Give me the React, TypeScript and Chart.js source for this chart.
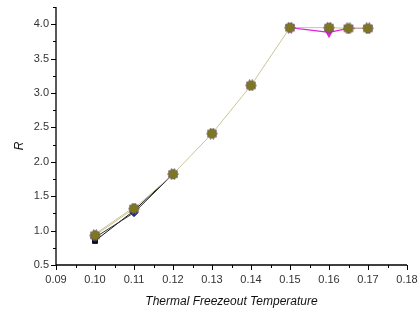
import React, { useEffect, useRef } from "react";
import { Chart, registerables } from "chart.js";
Chart.register(...registerables);

const oliveX = [0.10, 0.11, 0.12, 0.13, 0.14, 0.15, 0.16, 0.165, 0.17];
const oliveY = [0.93, 1.32, 1.82, 2.41, 3.11, 3.95, 3.95, 3.94, 3.94];
const blackX = [0.10, 0.11, 0.12];
const blackY = [0.85, 1.29, 1.82];
const blueX = [0.10, 0.11, 0.12];
const blueY = [0.90, 1.26, 1.82];
const redX = [0.10, 0.11];
const redY = [0.95, 1.34];
const magentaX = [0.15, 0.16, 0.165, 0.17];
const magentaY = [3.95, 3.88, 3.94, 3.94];
const xMajorTicks = [0.09, 0.10, 0.11, 0.12, 0.13, 0.14, 0.15, 0.16, 0.17, 0.18];
const yMajorTicks = [0.5, 1.0, 1.5, 2.0, 2.5, 3.0, 3.5, 4.0];
const yTitle = "R";

const pts = (xs: number[], ys: number[]) => xs.map((x, i) => ({ x, y: ys[i] }));

function makeGear(fill: string, edge: string) {
  const c = document.createElement("canvas");
  c.width = 12; c.height = 12;
  const g = c.getContext("2d")!;
  g.beginPath();
  const n = 10;
  for (let i = 0; i < n * 2; i++) {
    const r = i % 2 === 0 ? 5.6 : 4.4;
    const a = (Math.PI * i) / n;
    const px = 6 + r * Math.cos(a), py = 6 + r * Math.sin(a);
    if (i === 0) g.moveTo(px, py); else g.lineTo(px, py);
  }
  g.closePath();
  g.fillStyle = fill; g.fill();
  g.strokeStyle = edge; g.lineWidth = 0.6; g.stroke();
  return c;
}

const axesPlugin = {
  id: "originAxes",
  afterDraw(chart: any) {
    const { ctx, chartArea } = chart;
    const xs = chart.scales.x, ys = chart.scales.y;
    ctx.save();
    ctx.strokeStyle = "#000";
    ctx.lineWidth = 1.3;
    ctx.beginPath();
    ctx.moveTo(chartArea.left, chartArea.top);
    ctx.lineTo(chartArea.left, chartArea.bottom);
    ctx.lineTo(chartArea.right, chartArea.bottom);
    ctx.stroke();
    ctx.lineWidth = 1;
    ctx.beginPath();
    for (let v = 0.09; v <= 0.1801; v += 0.005) {
      const major = xMajorTicks.some((t) => Math.abs(t - v) < 1e-6);
      const px = Math.round(xs.getPixelForValue(v)) + 0.5;
      ctx.moveTo(px, chartArea.bottom);
      ctx.lineTo(px, chartArea.bottom + (major ? 5 : 3));
    }
    for (let v = 0.5; v <= 4.2501; v += 0.25) {
      const major = yMajorTicks.some((t) => Math.abs(t - v) < 1e-6);
      const py = Math.round(ys.getPixelForValue(v)) + 0.5;
      ctx.moveTo(chartArea.left, py);
      ctx.lineTo(chartArea.left - (major ? 5 : 3), py);
    }
    ctx.stroke();
    // y-axis title, slightly below the plot centre as in the original
    ctx.translate(20, (chartArea.top + chartArea.bottom) / 2 + 10);
    ctx.rotate(-Math.PI / 2);
    ctx.fillStyle = "#111";
    ctx.font = "italic 12px 'Liberation Sans'";
    ctx.textAlign = "center";
    ctx.textBaseline = "middle";
    ctx.fillText(yTitle, 0, 0);
    ctx.restore();
  },
};

export default function App() {
  const ref = useRef<HTMLCanvasElement>(null);
  useEffect(() => {
    document.body.style.margin = "0";
    const gear = makeGear("#7e7620", "#5a4a6a");
    const chart = new Chart(ref.current!, {
      type: "scatter",
      data: {
        datasets: [
          { data: pts(oliveX, oliveY), showLine: true, borderColor: "#cbc594", borderWidth: 1, backgroundColor: "#7e7620", pointStyle: gear as any, pointRadius: 6 },
          { data: pts(magentaX, magentaY), showLine: true, borderColor: "#e020e0", borderWidth: 1.2, backgroundColor: "#e020e0", pointStyle: "triangle", rotation: 180, pointRadius: 4.5 },
          { data: pts(redX, redY), showLine: true, borderColor: "#cbc594", borderWidth: 1, backgroundColor: "#c02020", pointStyle: "triangle", pointRadius: 4 },
          { data: pts(blueX, blueY), showLine: true, borderColor: "#333", borderWidth: 1, backgroundColor: "#1a2a90", pointBorderColor: "#1a2a90", pointStyle: "rectRot", pointRadius: 4 },
          { data: pts(blackX, blackY), showLine: true, borderColor: "#111", borderWidth: 1, backgroundColor: "#111", pointStyle: "rect", pointRadius: 3.5 },
        ],
      },
      options: {
        animation: false,
        responsive: false,
        events: [],
        layout: { padding: { top: 5, right: 12, left: 0, bottom: 0 } },
        plugins: { legend: { display: false }, tooltip: { enabled: false } },
        scales: {
          x: {
            type: "linear", min: 0.09, max: 0.18,
            afterFit: (s: any) => { s.height = 44; s.paddingLeft = 0; s.paddingRight = 0; },
            afterBuildTicks: (s: any) => { s.ticks = xMajorTicks.map((v) => ({ value: v })); },
            grid: { display: false, drawTicks: false },
            border: { display: false },
            ticks: { padding: 8, color: "#333", font: { family: "Liberation Sans", size: 11 }, callback: (v: any) => Number(v).toFixed(2), autoSkip: false, maxRotation: 0 },
            title: { display: true, text: "Thermal Freezeout Temperature", color: "#111", font: { family: "Liberation Sans", size: 12, style: "italic" }, padding: { top: 2, bottom: 0 } },
          },
          y: {
            type: "linear", min: 0.5, max: 4.25,
            afterFit: (s: any) => { s.width = 56; s.paddingTop = 0; s.paddingBottom = 0; },
            afterBuildTicks: (s: any) => { s.ticks = yMajorTicks.map((v) => ({ value: v })); },
            grid: { display: false, drawTicks: false },
            border: { display: false },
            ticks: { padding: 7, color: "#333", font: { family: "Liberation Sans", size: 11 }, callback: (v: any) => Number(v).toFixed(1) },
            title: { display: false },
          },
        },
      },
      plugins: [axesPlugin],
    });
    return () => chart.destroy();
  }, []);
  return <canvas ref={ref} width={419} height={309} style={{ display: "block" }} />;
}
